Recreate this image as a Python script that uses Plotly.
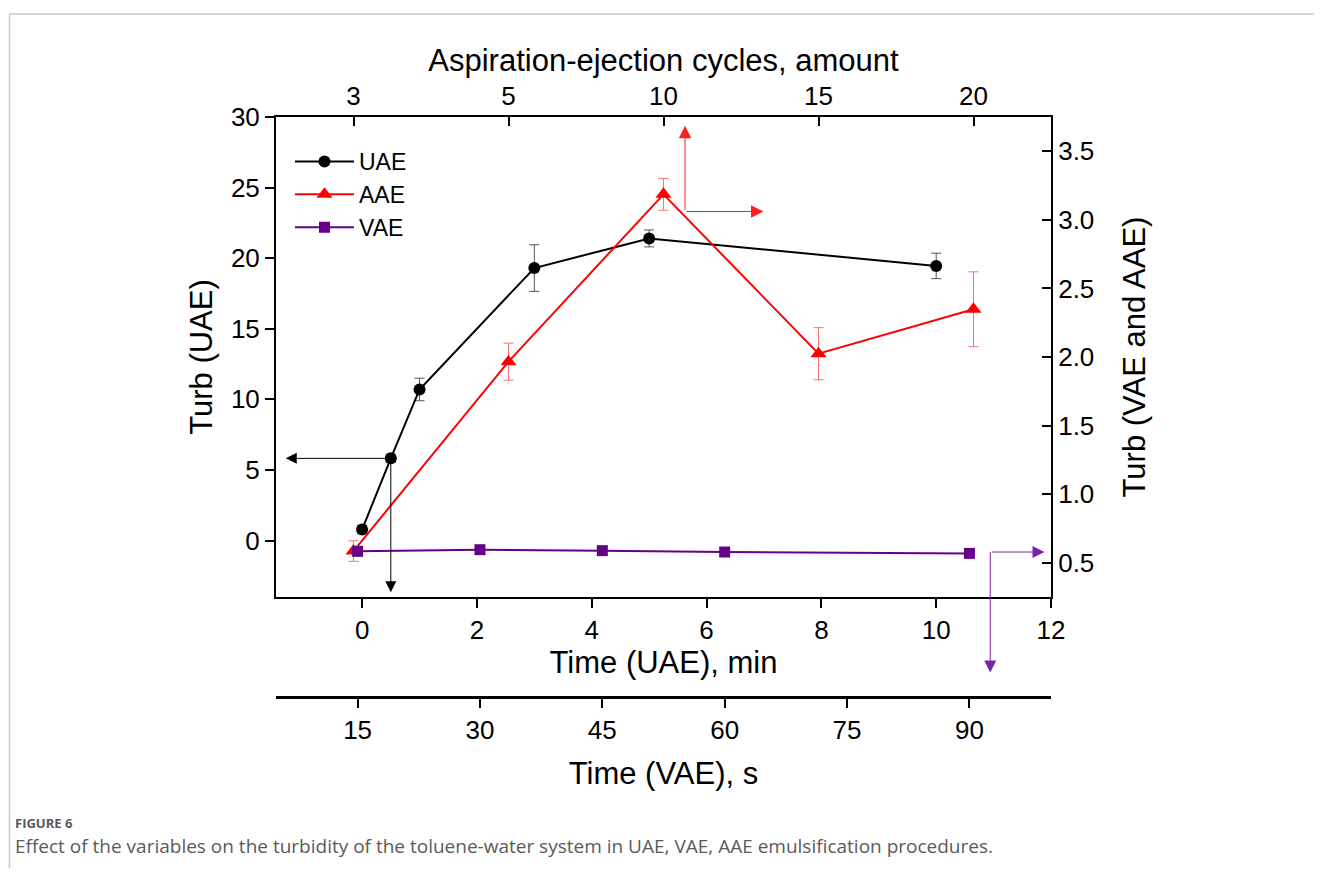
import plotly.graph_objects as go

# ---------------- data ----------------
# UAE: turbidity vs time (min), left axis
uae_time_min = [0, 0.5, 1, 3, 5, 10]
uae_turb = [0.78, 5.82, 10.7, 19.3, 21.4, 19.45]
uae_err = [0.3, 0.3, 0.8, 1.65, 0.6, 0.9]

# AAE: turbidity vs aspiration-ejection cycles, right axis
aae_cycles = ["3", "5", "10", "15", "20"]
aae_turb = [0.585, 1.966, 3.186, 2.024, 2.348]
aae_err = [0.075, 0.135, 0.116, 0.19, 0.273]

# VAE: turbidity vs time (s), right axis
vae_time_s = [15, 30, 45, 60, 90]
vae_turb = [0.583, 0.595, 0.588, 0.578, 0.568]

# tick labels
uae_ticks = [0, 2, 4, 6, 8, 10, 12]
vae_ticks = [15, 30, 45, 60, 75, 90]
left_ticks = [0, 5, 10, 15, 20, 25, 30]
right_ticks = [0.5, 1.0, 1.5, 2.0, 2.5, 3.0, 3.5]

caption_label = "FIGURE 6"
caption_text = ("Effect of the variables on the turbidity of the toluene-water system "
                "in UAE, VAE, AAE emulsification procedures.")

# ---------------- layout geometry ----------------
OFF = 8                      # page body margin of the html document
W, H = 1306, 860
L, R, T, B = 268, 263, 109, 171
PW, PH = W - L - R, H - T - B
FRAME_BOTTOM = 597 - OFF
ydom0 = (H - B - FRAME_BOTTOM) / PH


def px_x(px):
    """screen pixel -> paper x"""
    return (px - OFF - L) / PW


def px_y(py):
    """screen pixel -> paper y"""
    return (H - B - (py - OFF)) / PH


FONT = "Liberation Sans, Arial, Helvetica, sans-serif"
PURPLE = "#660088"

fig = go.Figure()

fig.add_trace(go.Scatter(
    x=uae_time_min, y=uae_turb, name="UAE", xaxis="x", yaxis="y",
    mode="lines+markers",
    line=dict(color="black", width=2),
    marker=dict(symbol="circle", size=12, color="black"),
    error_y=dict(type="data", array=uae_err, color="#555555", thickness=1, width=5),
))
fig.add_trace(go.Scatter(
    x=aae_cycles, y=aae_turb, name="AAE", xaxis="x2", yaxis="y2",
    mode="lines+markers",
    line=dict(color="#ff0000", width=2),
    marker=dict(symbol="triangle-up", size=14, color="#ff0000"),
    error_y=dict(type="data", array=aae_err, color="#ff7070", thickness=1, width=5),
))
fig.add_trace(go.Scatter(
    x=vae_time_s, y=vae_turb, name="VAE", xaxis="x3", yaxis="y2",
    mode="lines+markers",
    line=dict(color=PURPLE, width=2),
    marker=dict(symbol="square", size=11, color=PURPLE),
))

tick_font = dict(family=FONT, size=26, color="black")
title_font = dict(family=FONT, size=31, color="black")
axis_common = dict(showline=True, linecolor="black", linewidth=2, showgrid=False,
                   zeroline=False, tickcolor="black", tickwidth=2, ticklen=9,
                   tickfont=tick_font)

# ---------------- arrows (annotations) ----------------
def arrow(xref, yref, x, y, ax, ay, color, size, side="end"):
    return dict(xref=xref, yref=yref, axref=xref, ayref=yref, x=x, y=y, ax=ax, ay=ay,
                text="", showarrow=True, arrowhead=2, arrowsize=size, arrowwidth=1,
                startarrowhead=2, startarrowsize=size,
                arrowcolor=color, arrowside=side)


annotations = []
# black: UAE -> left axis / bottom axis
bx, by = uae_time_min[1], uae_turb[1]
annotations.append(arrow("x", "y", -1.33, by, bx, by, "black", 2.2))
annotations.append(arrow("x", "y", bx, -3.66, bx, by, "black", 2.2))
# red: AAE -> top axis / right axis
rx, ry = 2.139, 3.061
annotations.append(arrow("x2", "y2", rx, 3.687, rx, ry, "#ff2020", 2.5))
annotations.append(arrow("x2", "y2", 2.645, ry, rx, ry, "#ff2020", 2.5))
# purple: VAE -> right axis / VAE time axis
vx, vy = 92.55, 0.578
annotations.append(arrow("x3", "y2", 99.2, vy, vx, vy, "#7a22a8", 2.4))
annotations.append(arrow("x3", "y2", vx, vy, vx, -0.312, "#7a22a8", 2.4, side="start"))

# caption
annotations.append(dict(xref="paper", yref="paper", x=px_x(13), y=px_y(823),
                        xanchor="left", yanchor="middle", showarrow=False,
                        text="<b>" + caption_label + "</b>",
                        font=dict(family="Open Sans, Noto Sans, sans-serif", size=13, color="#5a5a5a")))
annotations.append(dict(xref="paper", yref="paper", x=px_x(13), y=px_y(846),
                        xanchor="left", yanchor="middle", showarrow=False,
                        text=caption_text,
                        font=dict(family="Open Sans, Noto Sans, sans-serif", size=19, color="#5a5a5a")))

# page frame: top and left border lines
border = dict(color="#c8c8c8", width=1.5)
shapes = [
    dict(type="line", xref="paper", yref="paper", x0=px_x(9.5), x1=px_x(1340),
         y0=px_y(14), y1=px_y(14), line=border, layer="below"),
    dict(type="line", xref="paper", yref="paper", x0=px_x(9.5), x1=px_x(9.5),
         y0=px_y(14), y1=px_y(900), line=border, layer="below"),
]

fig.update_layout(
    width=W, height=H,
    margin=dict(l=L, r=R, t=T, b=B, autoexpand=False),
    paper_bgcolor="white", plot_bgcolor="white",
    font=dict(family=FONT, color="black"),
    showlegend=True,
    legend=dict(x=px_x(290), y=px_y(140), xanchor="left", yanchor="top",
                bgcolor="rgba(0,0,0,0)", borderwidth=0, itemwidth=59,
                font=dict(family=FONT, size=23, color="black"), tracegroupgap=0),
    xaxis=dict(domain=[0, 1], anchor="y", range=[-1.5, 12], tickvals=uae_ticks,
               ticks="outside", title=dict(text="Time (UAE), min", font=title_font, standoff=7),
               **axis_common),
    xaxis2=dict(overlaying="x", side="top", anchor="y", type="category",
                categoryorder="array", categoryarray=aae_cycles, range=[-0.5, 4.5],
                ticks="inside",
                title=dict(text="Aspiration-ejection cycles, amount", font=title_font, standoff=0),
                **axis_common),
    xaxis3=dict(overlaying="x", side="bottom", anchor="free", position=0,
                range=[5, 100], tickvals=vae_ticks, ticks="outside",
                title=dict(text="Time (VAE), s", font=title_font, standoff=18),
                **{**axis_common, "linewidth": 3}),
    yaxis=dict(domain=[ydom0, 1], anchor="x", range=[-4, 30], tickvals=left_ticks,
               ticks="outside", title=dict(text="Turb (UAE)", font=title_font, standoff=9),
               **axis_common),
    yaxis2=dict(overlaying="y", side="right", anchor="x", range=[0.25, 3.75],
                tickvals=right_ticks, tickformat=".1f", ticks="inside",
                title=dict(text="Turb (VAE and AAE)", font=title_font, standoff=30),
                **axis_common),
    annotations=annotations,
    shapes=shapes,
)

fig.write_html("out.html")
